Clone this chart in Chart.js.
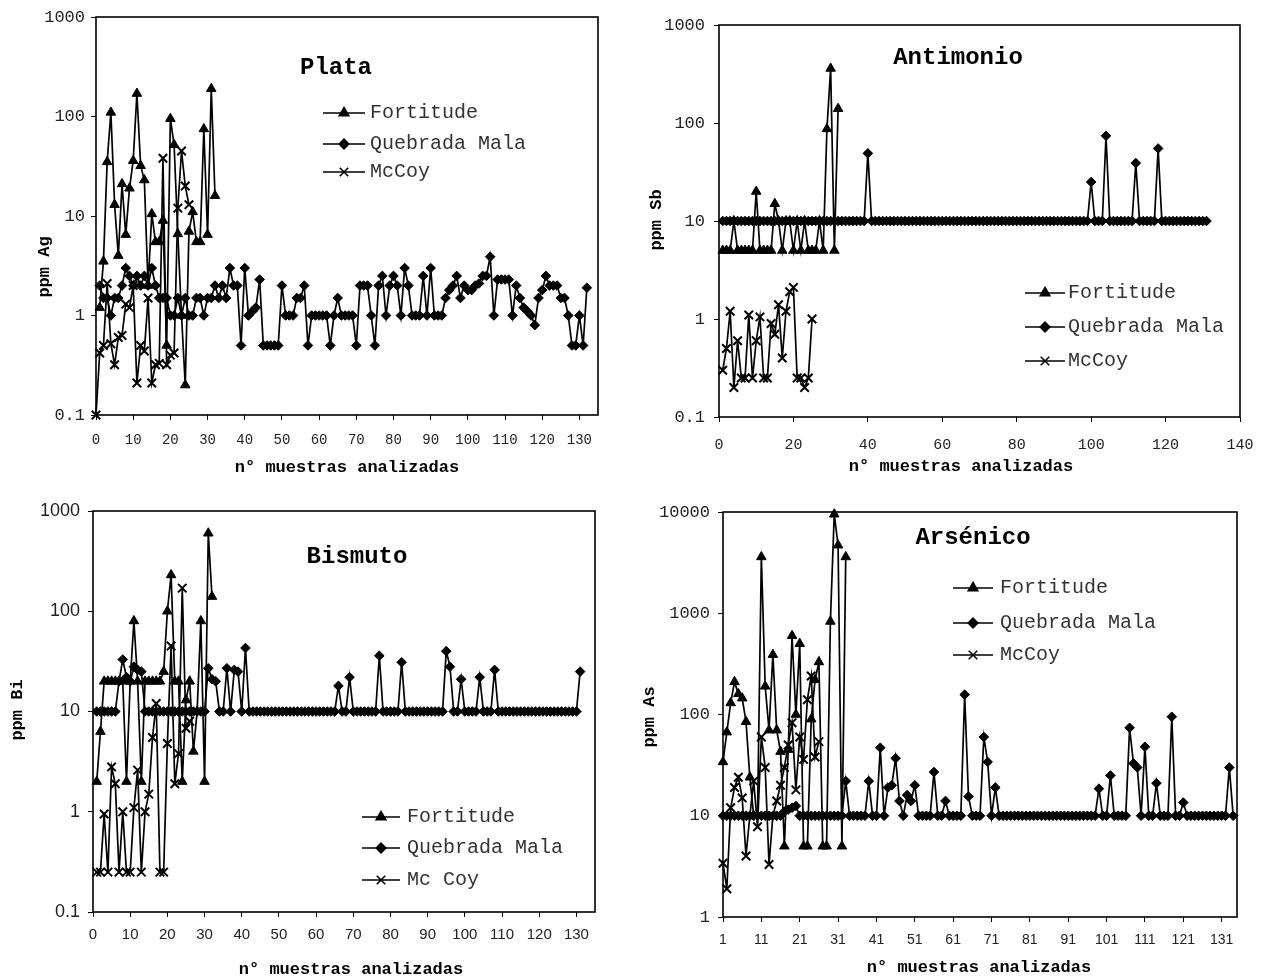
<!DOCTYPE html>
<html>
<head>
<meta charset="utf-8">
<script src="https://cdn.jsdelivr.net/npm/chart.js@4.4.1/dist/chart.umd.min.js"></script>
<style>
html, body { margin: 0; padding: 0; background: #fff; }
#wrap { position: relative; width: 1269px; height: 979px; background: #fff; }
canvas { position: absolute; }
</style>
</head>
<body>
<div id="wrap">
  <canvas id="cAg" width="634" height="490" style="left:0;top:0"></canvas>
  <canvas id="cSb" width="635" height="490" style="left:634px;top:0"></canvas>
  <canvas id="cBi" width="634" height="489" style="left:0;top:490px"></canvas>
  <canvas id="cAs" width="635" height="489" style="left:634px;top:490px"></canvas>
</div>
<script>
// ---- Plata (ppm Ag) ----
const agFortitude = [1.2, 3.5, 35, 110, 13, 4, 21, 6.5, 19, 36, 170, 32, 23, 2, 10.5, 5.5, 5.5, 9, 0.5, 95,
  52, 6.6, 1, 0.2, 7, 11, 5.5, 5.5, 75, 6.5, 190, 16];
const agQuebrada = [2, 1.5, 1.5, 1, 1.5, 1.5, 2, 3, 2.5, 2,
  2.5, 2, 2.5, 2, 3, 2, 1.5, 1.5, 1.5, 1,
  1, 1.5, 1, 1.5, 1, 1, 1.5, 1.5, 1, 1.5,
  1.5, 2, 1.5, 2, 1.5, 3, 2, 2, 0.5, 3,
  1, 1.1, 1.2, 2.3, 0.5, 0.5, 0.5, 0.5, 0.5, 2,
  1, 1, 1, 1.5, 1.5, 2, 0.5, 1, 1, 1,
  1, 1, 0.5, 1, 1.5, 1, 1, 1, 1, 0.5,
  2, 2, 2, 1, 0.5, 2, 2.5, 1, 2, 2.5,
  2, 1, 3, 2, 1, 1, 1, 2.5, 1, 3,
  1, 1, 1, 1.5, 1.8, 2, 2.5, 1.5, 2, 1.8,
  1.8, 2, 2.1, 2.5, 2.5, 3.9, 1, 2.3, 2.3, 2.3,
  2.3, 1, 2, 1.5, 1.2, 1.1, 1, 0.8, 1.5, 1.8,
  2.5, 2, 2, 2, 1.5, 1.5, 1, 0.5, 0.5, 1,
  0.5, 1.9];
const agMcCoy = [0.1, 0.42, 0.5, 2.1, 0.52, 0.32, 0.6, 0.63, 1.3, 1.2, 2, 0.21, 0.5, 0.44, 1.5, 0.21,
  0.32, 0.33, 38, 0.32, 0.4, 0.42, 12, 45, 20, 13];

// ---- Antimonio (ppm Sb) ----
const sbFortitude = [5, 5, 5, 10, 5, 5, 5, 5, 5, 20, 5, 5, 5, 5, 15, 10, 5, 10, 10, 5,
  10, 5, 10, 5, 5, 5, 10, 5, 87, 360, 5, 140];
const sbQuebrada = [10, 10, 10, 10, 10, 10, 10, 10, 10, 10,
  10, 10, 10, 10, 10, 10, 10, 10, 10, 10,
  10, 10, 10, 10, 10, 10, 10, 10, 10, 10,
  10, 10, 10, 10, 10, 10, 10, 10, 10, 49,
  10, 10, 10, 10, 10, 10, 10, 10, 10, 10,
  10, 10, 10, 10, 10, 10, 10, 10, 10, 10,
  10, 10, 10, 10, 10, 10, 10, 10, 10, 10,
  10, 10, 10, 10, 10, 10, 10, 10, 10, 10,
  10, 10, 10, 10, 10, 10, 10, 10, 10, 10,
  10, 10, 10, 10, 10, 10, 10, 10, 10, 25,
  10, 10, 10, 74, 10, 10, 10, 10, 10, 10,
  10, 39, 10, 10, 10, 10, 10, 55, 10, 10,
  10, 10, 10, 10, 10, 10, 10, 10, 10, 10,
  10];
const sbMcCoy = [0.3, 0.5, 1.2, 0.2, 0.6, 0.25, 0.25, 1.1, 0.25, 0.6, 1.05, 0.25, 0.25, 0.9, 0.7,
  1.4, 0.4, 1.2, 1.9, 2.1, 0.25, 0.25, 0.2, 0.25, 1.0];

// ---- Bismuto (ppm Bi) ----
const biFortitude = [2, 6.3, 20, 20, 20, 20, 20, 20, 2, 20, 80, 20, 2, 20, 20, 20, 20, 20, 25, 100,
  230, 20, 20, 2, 13, 20, 4, 10, 80, 2, 600, 140];
const biQuebrada = [10, 10, 10, 10, 10, 10, 20, 33, 22, 20,
  28, 26, 25, 10, 10, 10, 10, 10, 10, 10,
  10, 10, 10, 10, 10, 10, 10, 10, 10, 10,
  27, 21, 20, 10, 10, 27, 10, 26, 25, 10,
  43, 10, 10, 10, 10, 10, 10, 10, 10, 10,
  10, 10, 10, 10, 10, 10, 10, 10, 10, 10,
  10, 10, 10, 10, 10, 18, 10, 10, 22, 10,
  10, 10, 10, 10, 10, 10, 36, 10, 10, 10,
  10, 10, 31, 10, 10, 10, 10, 10, 10, 10,
  10, 10, 10, 10, 40, 28, 10, 10, 21, 10,
  10, 10, 10, 22, 10, 10, 10, 26, 10, 10,
  10, 10, 10, 10, 10, 10, 10, 10, 10, 10,
  10, 10, 10, 10, 10, 10, 10, 10, 10, 10,
  25];
const biMcCoy = [0.25, 0.25, 0.95, 0.25, 2.8, 1.9, 0.25, 1, 0.25, 0.25, 1.1, 2.6, 0.25, 1, 1.5,
  5.5, 12, 0.25, 0.25, 4.8, 45, 1.9, 3.8, 170, 6.8, 8];

// ---- Arsénico (ppm As) ----
const asFortitude = [34, 67, 130, 210, 160, 145, 85, 24, 10, 10, 3600, 190, 70, 390, 70, 43, 5, 45, 600, 100,
  500, 5, 5, 90, 220, 330, 5, 5, 830, 9500, 4700, 5, 3600];
const asQuebrada = [10, 10, 10, 10, 10, 10, 10, 10, 10, 10,
  10, 10, 10, 10, 10, 10, 11, 11.5, 12, 12.5,
  10, 10, 10, 10, 10, 10, 10, 10, 10, 10,
  10, 10, 22, 10, 10, 10, 10, 10, 22, 10,
  10, 47, 10, 19, 20, 37, 14, 10, 16, 14,
  20, 10, 10, 10, 10, 27, 10, 10, 14, 10,
  10, 10, 10, 157, 15.5, 10, 10, 10, 60, 34,
  10, 19, 10, 10, 10, 10, 10, 10, 10, 10,
  10, 10, 10, 10, 10, 10, 10, 10, 10, 10,
  10, 10, 10, 10, 10, 10, 10, 10, 18.5, 10,
  10, 25, 10, 10, 10, 10, 74, 33, 30, 10,
  48, 10, 10, 21, 10, 10, 10, 95, 10, 10,
  13.5, 10, 10, 10, 10, 10, 10, 10, 10, 10,
  10, 10, 30, 10];
const asMcCoy = [3.4, 1.9, 12, 19, 24, 15, 4, 10, 22, 7.8, 60, 30, 3.3, 10, 14, 20, 30, 50, 83, 18,
  60, 36, 140, 240, 38, 54];

// ---- axis ticks ----
const xTicks130 = [0, 10, 20, 30, 40, 50, 60, 70, 80, 90, 100, 110, 120, 130];
const xTicks140 = [0, 20, 40, 60, 80, 100, 120, 140];
const xTicksAs = [1, 11, 21, 31, 41, 51, 61, 71, 81, 91, 101, 111, 121, 131];
const yTicksLow = [0.1, 1, 10, 100, 1000];
const yTicksAs = [1, 10, 100, 1000, 10000];

const MONO = '"Liberation Mono", "Courier New", monospace';
const SANS = '"Liberation Sans", Arial, sans-serif';

// marker look, shared by the lines and the legend
const markerStyles = [
    { style: 'triangle', radius: 5.5, border: 1 },
    { style: 'rectRot', radius: 4.8, border: 1 },
    { style: 'crossRot', radius: 6, border: 2 }
];

function toPoints(values, first) {
    return values.map((v, i) => ({ x: first + i, y: v }));
}

function series(label, values, first, m) {
    return {
        label: label,
        data: toPoints(values, first),
        borderColor: '#000',
        backgroundColor: '#000',
        borderWidth: 1.7,
        pointStyle: m.style,
        pointRadius: m.radius,
        pointBorderWidth: m.border,
        pointBackgroundColor: '#000',
        pointBorderColor: '#000',
        tension: 0,
        fill: false,
        clip: 8
    };
}

const framePlugin = {
    id: 'frame',
    afterDraw(chart) {
        const a = chart.chartArea;
        const ctx = chart.ctx;
        ctx.save();
        ctx.strokeStyle = '#000';
        ctx.lineWidth = 1.6;
        ctx.strokeRect(a.left, a.top, a.right - a.left, a.bottom - a.top);
        ctx.restore();
    }
};

function textPlugin(p) {
    return {
        id: 'texts',
        afterDraw(chart) {
            const ctx = chart.ctx;
            ctx.save();
            ctx.fillStyle = '#000';
            ctx.textBaseline = 'middle';
            ctx.font = 'bold 24px ' + MONO;
            ctx.textAlign = 'center';
            ctx.fillText(p.title, p.titlePos[0] - p.ox, p.titlePos[1] - p.oy);
            ctx.font = 'bold 17px ' + MONO;
            ctx.fillText('n° muestras analizadas', p.xTitlePos[0] - p.ox, p.xTitlePos[1] - p.oy);
            ctx.save();
            ctx.translate(p.yTitlePos[0] - p.ox, p.yTitlePos[1] - p.oy);
            ctx.rotate(-Math.PI / 2);
            ctx.font = 'bold 17px ' + MONO;
            ctx.fillText(p.yTitle, 0, 0);
            ctx.restore();

            const lg = p.legend;
            lg.ys.forEach((yy, i) => {
                const y = yy - p.oy;
                const m = markerStyles[i];
                ctx.strokeStyle = '#000';
                ctx.fillStyle = '#000';
                ctx.lineWidth = 1.6;
                ctx.beginPath();
                ctx.moveTo(lg.x1 - p.ox, y);
                ctx.lineTo(lg.x2 - p.ox, y);
                ctx.stroke();
                Chart.helpers.drawPoint(ctx, { pointStyle: m.style, radius: m.radius, rotation: 0, borderWidth: m.border },
                    (lg.x1 + lg.x2) / 2 - p.ox, y);
                ctx.fillStyle = '#333';
                ctx.font = '20px ' + MONO;
                ctx.textAlign = 'left';
                ctx.fillText(lg.labels[i], lg.tx - p.ox, y);
            });
            ctx.restore();
        }
    };
}

function buildPanel(p) {
    const L = p.area[0] - p.ox, T = p.area[1] - p.oy, R = p.area[2] - p.ox, B = p.area[3] - p.oy;
    const canvas = document.getElementById(p.id);
    return new Chart(canvas, {
        type: 'line',
        data: {
            datasets: [
                series('Fortitude', p.fort, p.fortStart, markerStyles[0]),
                series('Quebrada Mala', p.qm, p.qmStart, markerStyles[1]),
                series(p.legend.labels[2], p.mc, p.mcStart, markerStyles[2])
            ]
        },
        options: {
            responsive: false,
            animation: false,
            layout: { autoPadding: false, padding: { left: 0, top: T, right: p.w - R, bottom: 0 } },
            plugins: { legend: { display: false }, tooltip: { enabled: false } },
            scales: {
                x: {
                    type: 'linear',
                    min: p.xMin,
                    max: p.xMax,
                    afterFit: s => { s.height = p.h - B; },
                    afterBuildTicks: s => { s.ticks = p.xTicks.map(v => ({ value: v })); },
                    ticks: { autoSkip: false, maxRotation: 0, padding: p.xPad, color: '#222', font: p.xFont, callback: v => String(v) },
                    grid: { display: true, drawOnChartArea: false, drawTicks: true, tickLength: 5, color: '#000' },
                    border: { display: false }
                },
                y: {
                    type: 'logarithmic',
                    min: p.yTicks[0],
                    max: p.yTicks[p.yTicks.length - 1],
                    afterFit: s => { s.width = L; },
                    afterBuildTicks: s => { s.ticks = p.yTicks.map(v => ({ value: v })); },
                    ticks: { autoSkip: false, padding: p.yPad, color: '#222', font: p.yFont, callback: v => String(v) },
                    grid: { display: true, drawOnChartArea: false, drawTicks: true, tickLength: 5, color: '#000' },
                    border: { display: false }
                }
            }
        },
        plugins: [framePlugin, textPlugin(p)]
    });
}

buildPanel({
    id: 'cAg', ox: 0, oy: 0, w: 634, h: 490, area: [96, 17, 598, 415],
    fort: agFortitude, fortStart: 1, qm: agQuebrada, qmStart: 1, mc: agMcCoy, mcStart: 0,
    xMin: 0, xMax: 135, xTicks: xTicks130, yTicks: yTicksLow,
    xFont: { family: MONO, size: 14 }, yFont: { family: MONO, size: 17 }, xPad: 12, yPad: 6,
    title: 'Plata', titlePos: [336, 68], yTitle: 'ppm Ag', yTitlePos: [45, 267], xTitlePos: [347, 468],
    legend: { x1: 323, x2: 365, tx: 370, ys: [113, 144, 172], labels: ['Fortitude', 'Quebrada Mala', 'McCoy'] }
});

buildPanel({
    id: 'cSb', ox: 634, oy: 0, w: 635, h: 490, area: [719, 25, 1240, 417],
    fort: sbFortitude, fortStart: 1, qm: sbQuebrada, qmStart: 1, mc: sbMcCoy, mcStart: 1,
    xMin: 0, xMax: 140, xTicks: xTicks140, yTicks: yTicksLow,
    xFont: { family: MONO, size: 15 }, yFont: { family: MONO, size: 17 }, xPad: 14, yPad: 9,
    title: 'Antimonio', titlePos: [958, 58], yTitle: 'ppm Sb', yTitlePos: [657, 220], xTitlePos: [961, 467],
    legend: { x1: 1025, x2: 1065, tx: 1068, ys: [293, 327, 361], labels: ['Fortitude', 'Quebrada Mala', 'McCoy'] }
});

buildPanel({
    id: 'cBi', ox: 0, oy: 490, w: 634, h: 489, area: [93, 511, 595, 912],
    fort: biFortitude, fortStart: 1, qm: biQuebrada, qmStart: 1, mc: biMcCoy, mcStart: 1,
    xMin: 0, xMax: 135, xTicks: xTicks130, yTicks: yTicksLow,
    xFont: { family: SANS, size: 15 }, yFont: { family: SANS, size: 18 }, xPad: 9, yPad: 8,
    title: 'Bismuto', titlePos: [357, 557], yTitle: 'ppm Bi', yTitlePos: [18, 710], xTitlePos: [351, 970],
    legend: { x1: 362, x2: 400, tx: 407, ys: [817, 848, 880], labels: ['Fortitude', 'Quebrada Mala', 'Mc Coy'] }
});

buildPanel({
    id: 'cAs', ox: 634, oy: 490, w: 635, h: 489, area: [723, 512, 1237, 917],
    fort: asFortitude, fortStart: 1, qm: asQuebrada, qmStart: 1, mc: asMcCoy, mcStart: 1,
    xMin: 1, xMax: 135, xTicks: xTicksAs, yTicks: yTicksAs,
    xFont: { family: SANS, size: 14 }, yFont: { family: MONO, size: 17 }, xPad: 10, yPad: 8,
    title: 'Arsénico', titlePos: [973, 538], yTitle: 'ppm As', yTitlePos: [650, 717], xTitlePos: [979, 968],
    legend: { x1: 953, x2: 993, tx: 1000, ys: [588, 623, 655], labels: ['Fortitude', 'Quebrada Mala', 'McCoy'] }
});
</script>
</body>
</html>
